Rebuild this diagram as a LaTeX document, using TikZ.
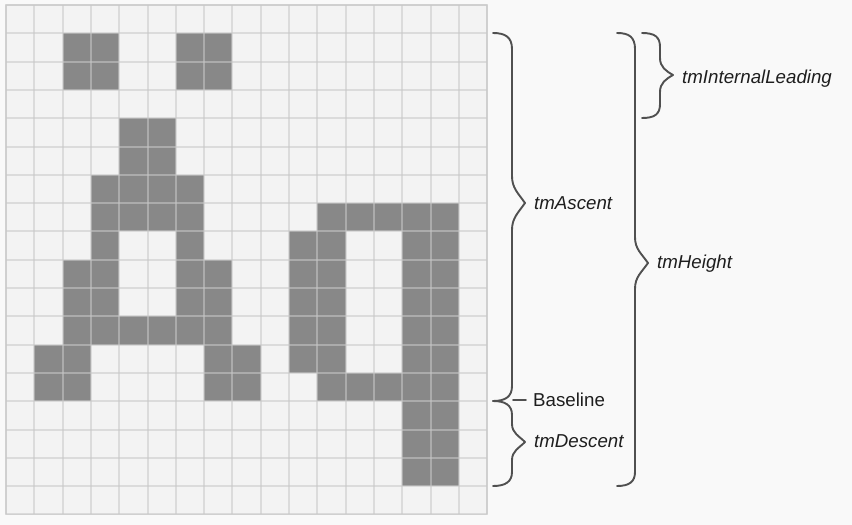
\documentclass[tikz,border=0pt]{standalone}
\usepackage{fontspec}
\setmainfont{Liberation Sans}
\definecolor{bg}{HTML}{F9F9F9}
\definecolor{cellbg}{HTML}{F3F3F3}
\definecolor{ink}{HTML}{888888}
\definecolor{gridc}{HTML}{C8C8C8}
\definecolor{bracec}{HTML}{505050}
\definecolor{txt}{HTML}{1E1E1E}
\begin{document}
\begin{tikzpicture}[x=1pt,y=-1pt,
  brace/.style={draw=bracec,line width=1.9pt,line cap=round,line join=round},
  lbl/.style={anchor=base west,inner sep=0pt,font=\fontsize{18.7}{22}\selectfont\itshape,text=txt},
  ulbl/.style={anchor=base west,inner sep=0pt,font=\fontsize{18.7}{22}\selectfont,text=txt},
]
\fill[bg] (0,0) rectangle (852,525);
\useasboundingbox (0,0) rectangle (852,525);
\begin{scope}[shift={(6pt,-5pt)},x=28.3pt,y=-28.3pt]
  \fill[cellbg] (0,0) rectangle (17,18);
  \foreach \r/\cols in {1/{2,3,6,7},2/{2,3,6,7},4/{4,5},5/{4,5},6/{3,4,5,6},
      7/{3,4,5,6,11,12,13,14,15},8/{3,6,10,11,14,15},9/{2,3,6,7,10,11,14,15},
      10/{2,3,6,7,10,11,14,15},11/{2,3,4,5,6,7,10,11,14,15},12/{1,2,7,8,10,11,14,15},
      13/{1,2,7,8,11,12,13,14,15},14/{14,15},15/{14,15},16/{14,15}}{
    \foreach \c in \cols {\fill[ink] (\c,\r) rectangle ++(1,1);}
  }
  \foreach \i in {0,...,17} \draw[gridc,opacity=0.55,line width=2pt] (\i,0) -- (\i,18);
  \foreach \j in {0,...,18} \draw[gridc,opacity=0.55,line width=2pt] (0,\j) -- (17,\j);
  \draw[gridc,opacity=0.6,line width=1.5pt] (0,0) rectangle (17,18);
\end{scope}

% tmAscent brace
\draw[brace] (493,33) .. controls (505,33) and (512,37) .. (512,49) -- (512,176)
  .. controls (512,188) and (518,193) .. (525,203)
  .. controls (518,213) and (512,218) .. (512,230) -- (512,386)
  .. controls (512,397) and (505,401) .. (493,401);
% tmDescent brace
\draw[brace] (493,401) .. controls (505,401) and (512,405) .. (512,415) -- (512,424)
  .. controls (512,433) and (519,436) .. (525,442)
  .. controls (519,448) and (512,451) .. (512,460) -- (512,472)
  .. controls (512,482) and (505,486) .. (493,486);
% baseline tick
\coordinate (bl0) at (513,400);
\coordinate (bl1) at (526,400);
\draw[brace,line width=1.6pt] (bl0) -- (bl1);
% tmHeight brace
\draw[brace] (617,33) .. controls (629,33) and (635,37) .. (635,49) -- (635,237)
  .. controls (635,249) and (641,253) .. (648,263)
  .. controls (641,273) and (635,277) .. (635,289) -- (635,472)
  .. controls (635,482) and (629,486) .. (617,486);
% tmInternalLeading brace
\draw[brace] (642,33) .. controls (655,33) and (660,37) .. (660,47) -- (660,58)
  .. controls (660,67) and (666,71) .. (673,75)
  .. controls (666,79) and (660,83) .. (660,92) -- (660,104)
  .. controls (660,114) and (655,118) .. (642,118);

\node[lbl] (lead) at (682,83) {tmInternalLeading};
\node[lbl] (asc) at (534,209) {tmAscent};
\node[lbl] (hgt) at (657,268) {tmHeight};
\node[ulbl] (base) at (533,406) {Baseline};
\node[lbl] (desc) at (534,447) {tmDescent};
\end{tikzpicture}
\end{document}
